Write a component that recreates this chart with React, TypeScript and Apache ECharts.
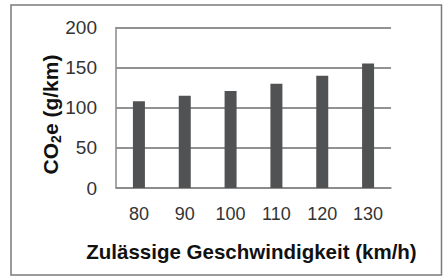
import React, { useEffect, useRef } from "react";
import * as echarts from "echarts";

const categories = ["80", "90", "100", "110", "120", "130"];
const co2Values = [108, 115, 121, 130, 140, 155];
const yTicks = { min: 0, max: 200, interval: 50 };
const xTitle = "Zulässige Geschwindigkeit (km/h)";
const yTitleParts = ["CO", "2", "e (g/km)"];

const FONT = "Liberation Sans, Arial, sans-serif";

export default function App() {
  const ref = useRef<HTMLDivElement>(null);
  useEffect(() => {
    if (!ref.current) return;
    const chart = echarts.init(ref.current, undefined, { renderer: "svg" });
    const mainSize = 21;
    const subSize = 14;
    const ctx = document.createElement("canvas").getContext("2d")!;
    const measure = (t: string, size: number) => {
      ctx.font = `bold ${size}px ${FONT}`;
      return ctx.measureText(t).width;
    };
    const w0 = measure(yTitleParts[0], mainSize);
    const w1 = measure(yTitleParts[1], subSize);
    const w2 = measure(yTitleParts[2], mainSize);
    const total = w0 + w1 + w2;
    const start = -total / 2;
    const txt = (text: string, x: number, y: number, size: number) => ({
      type: "text",
      x,
      y,
      style: {
        text,
        fontSize: size,
        fontWeight: "bold",
        fontFamily: FONT,
        fill: "#111111",
        align: "left",
        verticalAlign: "middle",
      },
    });
    chart.setOption({
      animation: false,
      backgroundColor: "#ffffff",
      grid: { left: 116, right: 52, top: 27.5, bottom: 88, containLabel: false },
      xAxis: {
        type: "category",
        data: categories,
        axisLine: { show: true, lineStyle: { color: "#8a8a8a", width: 1.5 } },
        axisTick: { show: false },
        axisLabel: { color: "#333333", fontSize: 18, fontFamily: FONT, margin: 17 },
        splitLine: { show: false },
      },
      yAxis: {
        type: "value",
        min: yTicks.min,
        max: yTicks.max,
        interval: yTicks.interval,
        axisLine: { show: true, lineStyle: { color: "#8a8a8a", width: 1.5 } },
        axisTick: { show: false },
        axisLabel: { color: "#333333", fontSize: 19, fontFamily: FONT, margin: 19 },
        splitLine: { show: true, lineStyle: { color: "#6e6e6e", width: 1.5 } },
      },
      series: [
        {
          type: "bar",
          data: co2Values,
          barWidth: 12,
          itemStyle: { color: "#505254" },
        },
      ],
      graphic: [
        {
          type: "rect",
          shape: { x: 11, y: 5, width: 430.5, height: 270 },
          style: { fill: "none", stroke: "#7a7a7a", lineWidth: 1.5 },
          silent: true,
        },
        {
          type: "text",
          x: 251.5,
          y: 251,
          style: {
            text: xTitle,
            fontSize: 20.5,
            fontWeight: "bold",
            fontFamily: FONT,
            fill: "#111111",
            align: "center",
            verticalAlign: "middle",
          },
        },
        {
          type: "group",
          x: 50,
          y: 114.5,
          rotation: Math.PI / 2,
          children: [
            txt(yTitleParts[0], start, 0, mainSize),
            txt(yTitleParts[1], start + w0, 6, subSize),
            txt(yTitleParts[2], start + w0 + w1, 0, mainSize),
          ],
        },
      ],
    });
    return () => chart.dispose();
  }, []);
  return (
    <div
      ref={ref}
      style={{ position: "fixed", left: 0, top: 0, width: 443, height: 276, background: "#fff" }}
    />
  );
}
